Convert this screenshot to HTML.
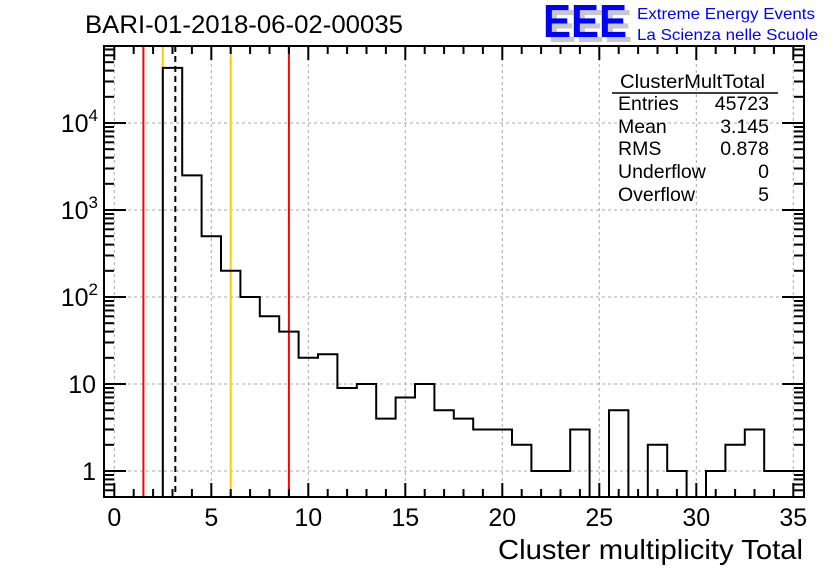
<!DOCTYPE html>
<html><head><meta charset="utf-8"><style>
body{margin:0;background:#fff}
svg{display:block;font-family:"Liberation Sans",Arial,sans-serif}
</style></head><body>
<svg id="c" width="836" height="572" viewBox="0 0 836 572">
<text x="85" y="33" font-size="25" textLength="318" lengthAdjust="spacingAndGlyphs">BARI-01-2018-06-02-00035</text>
<g>
<text x="548" y="42" font-size="46" font-weight="bold" fill="#c8c8c8" textLength="84" lengthAdjust="spacingAndGlyphs">EEE</text>
<text x="543" y="37" font-size="46" font-weight="bold" fill="#0000ff" textLength="84" lengthAdjust="spacingAndGlyphs">EEE</text>
<text x="637" y="19" font-size="16" fill="#0000ff" textLength="178" lengthAdjust="spacingAndGlyphs">Extreme Energy Events</text>
<text x="637" y="40" font-size="16" fill="#0000ff" textLength="181" lengthAdjust="spacingAndGlyphs">La Scienza nelle Scuole</text>
</g>
<g id="grid"></g><g id="marks"></g><g id="axes"></g>
<g font-size="19.5">
<text x="620" y="88" textLength="145" lengthAdjust="spacingAndGlyphs">ClusterMultTotal</text>
<line x1="612" y1="93" x2="778" y2="93" stroke="#000" stroke-width="1.5"/>
<text x="618" y="110">Entries</text><text x="769" y="110" text-anchor="end">45723</text>
<text x="618" y="133">Mean</text><text x="769" y="133" text-anchor="end">3.145</text>
<text x="618" y="155">RMS</text><text x="769" y="155" text-anchor="end">0.878</text>
<text x="618" y="178">Underflow</text><text x="769" y="178" text-anchor="end">0</text>
<text x="618" y="201">Overflow</text><text x="769" y="201" text-anchor="end">5</text>
</g>
<text x="803" y="559" font-size="28" text-anchor="end" textLength="305" lengthAdjust="spacingAndGlyphs">Cluster multiplicity Total</text>
</svg>
<script>
const binCenters=[0,1,2,3,4,5,6,7,8,9,10,11,12,13,14,15,16,17,18,19,20,21,22,23,24,25,26,27,28,29,30,31,32,33,34,35];
const counts=[0,0,0,43000,2500,500,200,100,60,40,20,22,9,10,4,7,10,5,4,3,3,2,1,1,3,0,5,0,2,1,0,1,2,3,1,1];
const xTicks=[0,5,10,15,20,25,30,35];
const yTicks=[1,10,100,1000,10000];
const yTickLabels=["1","10","10²","10³","10⁴"];
const redLines=[1.5,9];
const yellowLines=[2.5,6];
const meanLine=[3.145];
const L=104,R=804,T=46,B=497;
const X=v=>114.3+v*19.4;
const Y=v=>471-87*Math.log10(v);
const NS="http://www.w3.org/2000/svg";
function mk(p,t,a){const e=document.createElementNS(NS,t);for(const k in a)e.setAttribute(k,a[k]);p.appendChild(e);return e;}
const grid=document.getElementById('grid'),marks=document.getElementById('marks'),axes=document.getElementById('axes');
xTicks.forEach(v=>{const l=mk(grid,'line',{x1:X(v),x2:X(v),y1:T,y2:B,stroke:'#aaa','stroke-dasharray':'3,3'});

});
yTicks.forEach(v=>{const l=mk(grid,'line',{x1:L,x2:R,y1:Y(v),y2:Y(v),stroke:'#aaa','stroke-dasharray':'3,3'});

});
function vline(v,col,name,dash){const l=mk(marks,'line',{x1:X(v),x2:X(v),y1:T,y2:B,stroke:col,'stroke-width':2});
if(dash)l.setAttribute('stroke-dasharray','6,4');

}
redLines.forEach(v=>vline(v,'#ff0000','red-cut-line'));
yellowLines.forEach(v=>vline(v,'#ffcc00','yellow-cut-line'));
meanLine.forEach(v=>vline(v,'#000','mean-line',true));
let d='';const bottom=B;
binCenters.forEach((c,i)=>{const x0=Math.max(L,X(c-0.5)),x1=Math.min(R,X(c+0.5));
const y=counts[i]>0?Math.max(T,Y(counts[i])):bottom;
d+=(i===0?'M'+x0+','+y:'L'+x0+','+y)+'L'+x1+','+y;});
const h=mk(marks,'path',{d:d,fill:'none',stroke:'#000','stroke-width':2});


const fr=mk(axes,'rect',{x:L,y:T,width:R-L,height:B-T,fill:'none',stroke:'#000','stroke-width':2});


for(let v=0;v<=35;v++){const len=v%5===0?14:8;
mk(axes,'line',{x1:X(v),x2:X(v),y1:B,y2:B-len,stroke:'#000','stroke-width':2});
mk(axes,'line',{x1:X(v),x2:X(v),y1:T,y2:T+len,stroke:'#000','stroke-width':2});}
for(let e=-1;e<5;e++)for(let m=1;m<10;m++){const v=m*Math.pow(10,e);const y=Y(v);if(y<T||y>B)continue;const len=m===1?22:10;
mk(axes,'line',{x1:L,x2:L+len,y1:y,y2:y,stroke:'#000','stroke-width':2});
mk(axes,'line',{x1:R,x2:R-len,y1:y,y2:y,stroke:'#000','stroke-width':2});}
xTicks.forEach(v=>{const t=mk(axes,'text',{x:X(v),y:526,'font-size':25,'text-anchor':'middle'});t.textContent=v;

});
yTicks.forEach((v,i)=>{const t=mk(axes,'text',{x:96,y:Y(v)+9,'font-size':25,'text-anchor':'end'});
const lab=yTickLabels[i];
if(lab.length>2){t.textContent='10';const s=mk(t,'tspan',{'font-size':17,dy:-11});s.textContent=lab==='10²'?'2':lab==='10³'?'3':'4';t.setAttribute('x',98);}
else t.textContent=lab;

});
</script>
</body></html>
